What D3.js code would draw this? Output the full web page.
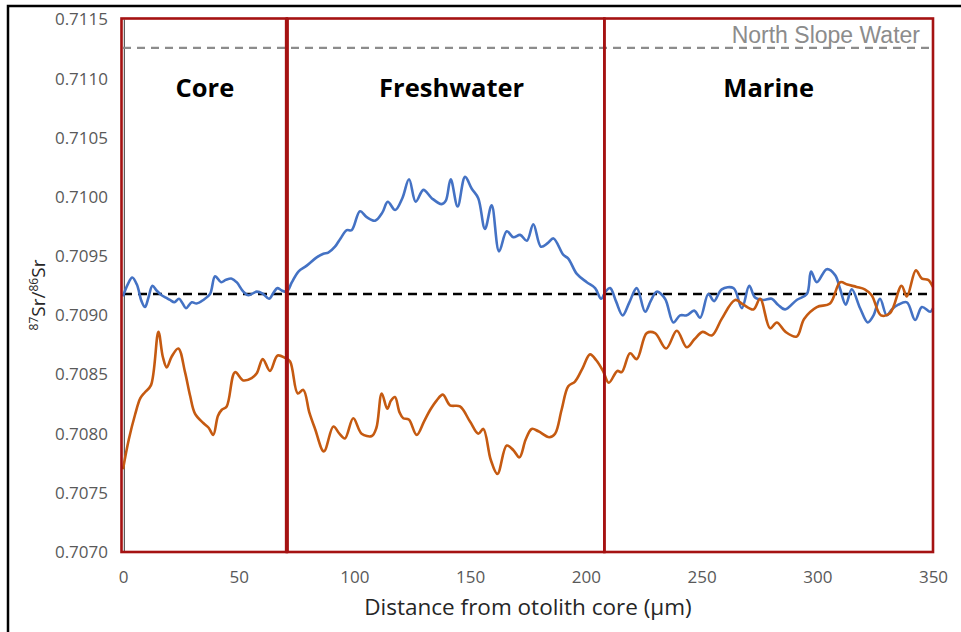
<!DOCTYPE html>
<html>
<head>
<meta charset="utf-8">
<script src="https://cdn.jsdelivr.net/npm/d3@7"></script>
<style>
  body { margin: 0; background: #fff; }
  svg { display: block; }
</style>
</head>
<body>
<svg id="chart" width="961" height="632"></svg>
<script>
// Otolith transect A (blue): distance from core (µm) and 87Sr/86Sr
const distanceA = [0, 2, 4, 6, 8, 9.5, 11, 12.7, 14.5, 16.7, 18.5, 20.3, 22.2, 24.2, 25.8, 27.2, 29.7, 31.8, 34.7, 37.6,
  39.8, 42.4, 44.5, 47, 49.1, 52, 54.2, 57.8, 60.6, 63.1, 65, 66.7, 68.6, 70.7, 73, 75.8, 79.4, 83.7, 86.6, 88.7,
  91.6, 94, 96.7, 98.8, 102.4, 105.3, 108.9, 112.1, 114.4, 117.6, 120.7, 123.6, 126.5, 129.8, 133.4, 137.7, 139.5, 141.6, 144.6, 147.8,
  150.7, 153.5, 156.4, 159.3, 162.5, 165.8, 168.7, 171.6, 174.5, 177.3, 180.6, 183.5, 186, 190.3, 192.4, 196.1, 200.4, 204, 206.6, 208.5,
  210.5, 213, 215.9, 218.8, 222, 225.6, 228, 230.6, 234.2, 237.8, 240.7, 243.6, 246.8, 249.4, 252.9, 255.4, 258.7, 263.8, 267.4, 270.6,
  273.1, 276.7, 280.3, 283, 286.1, 291.1, 295.5, 297.3, 299.8, 304.1, 307.7, 309.9, 312.3, 314.9, 318.5, 321.8, 324.3, 327.1, 330, 332.2,
  335, 338.7, 342.3, 345.2, 348.8, 350];
const ratioA = [0.70916, 0.70926, 0.70932, 0.70926, 0.70912, 0.70907, 0.70915, 0.70925, 0.70921, 0.70917, 0.70915, 0.70913, 0.70911, 0.70914, 0.70910, 0.70906, 0.70911, 0.70910, 0.70913, 0.70918,
  0.70933, 0.70928, 0.70930, 0.70931, 0.70928, 0.70920, 0.70917, 0.70920, 0.70918, 0.70914, 0.70919, 0.70923, 0.70921, 0.70920, 0.70928, 0.70937, 0.70942, 0.70949, 0.70952, 0.70953,
  0.70958, 0.70965, 0.70972, 0.70972, 0.70988, 0.70983, 0.70980, 0.70987, 0.70996, 0.70989, 0.70999, 0.71015, 0.70996, 0.71006, 0.70999, 0.70994, 0.70997, 0.71015, 0.70992, 0.71017,
  0.71007, 0.70999, 0.70973, 0.70993, 0.70954, 0.70971, 0.70966, 0.70968, 0.70963, 0.70977, 0.70958, 0.70961, 0.70965, 0.70951, 0.70948, 0.70935, 0.70928, 0.70923, 0.70914, 0.70920,
  0.70923, 0.70912, 0.70900, 0.70911, 0.70923, 0.70903, 0.70912, 0.70920, 0.70914, 0.70894, 0.70900, 0.70900, 0.70904, 0.70898, 0.70918, 0.70912, 0.70922, 0.70923, 0.70906, 0.70925,
  0.70915, 0.70913, 0.70914, 0.70909, 0.70905, 0.70913, 0.70918, 0.70937, 0.70928, 0.70939, 0.70934, 0.70922, 0.70909, 0.70922, 0.70906, 0.70894, 0.70900, 0.70914, 0.70900, 0.70905,
  0.70909, 0.70911, 0.70896, 0.70907, 0.70903, 0.70906];

// Otolith transect B (orange)
const distanceB = [0, 2.5, 5.2, 7.5, 9.5, 12.1, 15.3, 17.2, 18.9, 21, 23.9, 26.8, 29, 31.1, 34.7, 37, 39, 41, 42.6, 44.8,
  48.4, 52, 55.6, 57.8, 60.4, 63.5, 66.8, 70, 72.2, 75.5, 77.9, 80.5, 83, 86.8, 90.9, 93.5, 95.9, 99.5, 103.1, 107.5,
  109.5, 111.8, 114.2, 115.8, 117.5, 119.5, 121.1, 123.5, 126.9, 130, 132.7, 135.5, 138.2, 141.3, 145.6, 150, 153.5, 155.7, 158.9, 161.8,
  165.8, 168.7, 171.3, 174, 176.6, 179.5, 184.2, 186.7, 189.5, 192.4, 195.3, 198.5, 201.8, 204.5, 207.4, 209.9, 213.6, 215.5, 219.1, 222,
  226.3, 229.9, 234.7, 239.3, 243.6, 247, 250.5, 254.4, 258.7, 264.5, 268.1, 272.4, 275.3, 279.6, 282.5, 286.3, 291.1, 294.3, 299.8, 305.5,
  309.9, 313, 317, 320.5, 323.5, 327.5, 331.5, 336.4, 338.7, 342.6, 345.2, 347.9, 350];
const ratioB = [0.70770, 0.70795, 0.70816, 0.70830, 0.70835, 0.70841, 0.70886, 0.70865, 0.70856, 0.70865, 0.70872, 0.70852, 0.70832, 0.70817, 0.70809, 0.70805, 0.70799, 0.70815, 0.70820, 0.70823,
  0.70852, 0.70845, 0.70847, 0.70851, 0.70863, 0.70853, 0.70866, 0.70864, 0.70861, 0.70834, 0.70837, 0.70818, 0.70804, 0.70785, 0.70806, 0.70800, 0.70796, 0.70813, 0.70800, 0.70798,
  0.70805, 0.70834, 0.70821, 0.70828, 0.70831, 0.70818, 0.70813, 0.70812, 0.70799, 0.70810, 0.70820, 0.70828, 0.70833, 0.70824, 0.70823, 0.70810, 0.70800, 0.70804, 0.70778, 0.70766,
  0.70790, 0.70786, 0.70780, 0.70795, 0.70804, 0.70802, 0.70797, 0.70800, 0.70820, 0.70840, 0.70844, 0.70855, 0.70867, 0.70862, 0.70853, 0.70843, 0.70853, 0.70852, 0.70868, 0.70863,
  0.70885, 0.70885, 0.70872, 0.70887, 0.70873, 0.70880, 0.70886, 0.70883, 0.70897, 0.70913, 0.70909, 0.70905, 0.70914, 0.70889, 0.70894, 0.70886, 0.70882, 0.70897, 0.70907, 0.70910,
  0.70928, 0.70926, 0.70924, 0.70922, 0.70917, 0.70900, 0.70902, 0.70925, 0.70916, 0.70938, 0.70931, 0.70930, 0.70924];

// Life-history zones along the transect
const zoneNames = ["Core", "Freshwater", "Marine"];
const zoneEdges = [0, 70.8, 208, 350];

// Reference ratios
const marineRatio = 0.70918;
const northSlopeRatio = 0.71126;
const northSlopeLabel = "North Slope Water";

// Axis ticks
const xTicks = [0, 50, 100, 150, 200, 250, 300, 350];
const yTicks = [0.7070, 0.7075, 0.7080, 0.7085, 0.7090, 0.7095, 0.7100, 0.7105, 0.7110, 0.7115];

const svg = d3.select("#chart");
const x = d3.scaleLinear().domain([0, 350]).range([123, 933]);
const y = d3.scaleLinear().domain([0.7070, 0.7115]).range([552, 19.5]);

const tickFont = "'Open Sans', sans-serif";

// outer frame
svg.append("rect")
  .attr("x", 8).attr("y", 6).attr("width", 980).attr("height", 660)
  .attr("fill", "none").attr("stroke", "#000").attr("stroke-width", 2.5);

// y tick labels
const yAxis = svg.append("g")
  .attr("transform", `translate(${x(0) - 15},0)`)
  .call(d3.axisLeft(y).tickValues(yTicks).tickFormat(d3.format(".4f")).tickSize(0).tickPadding(0));
yAxis.select(".domain").remove();
yAxis.selectAll("text")
  .attr("font-family", tickFont).attr("font-size", 17).attr("fill", "#595959");

// x tick labels
const xAxis = svg.append("g")
  .attr("transform", `translate(0,${y(0.7070) + 19})`)
  .call(d3.axisBottom(x).tickValues(xTicks).tickFormat(d3.format("d")).tickSize(0).tickPadding(0));
xAxis.select(".domain").remove();
xAxis.selectAll("text")
  .attr("font-family", tickFont).attr("font-size", 17).attr("fill", "#595959");

// vertical axis line
svg.append("line")
  .attr("x1", x(0) + 1.3).attr("x2", x(0) + 1.3)
  .attr("y1", y(0.7115)).attr("y2", y(0.7070))
  .attr("stroke", "#333").attr("stroke-width", 1);

// reference lines
svg.append("line")
  .attr("x1", x(0)).attr("x2", x(350))
  .attr("y1", y(northSlopeRatio)).attr("y2", y(northSlopeRatio))
  .attr("stroke", "#8c8c8c").attr("stroke-width", 2.2).attr("stroke-dasharray", "8,6");
svg.append("text")
  .attr("x", x(350) - 13).attr("y", y(northSlopeRatio) - 5)
  .attr("text-anchor", "end")
  .attr("font-family", "'Liberation Sans', Arial, sans-serif").attr("font-size", 23)
  .attr("fill", "#8c8c8c")
  .text(northSlopeLabel);

svg.append("line")
  .attr("x1", x(0)).attr("x2", x(350))
  .attr("y1", y(marineRatio)).attr("y2", y(marineRatio))
  .attr("stroke", "#000").attr("stroke-width", 2.6).attr("stroke-dasharray", "9,6");

// isotope profiles
const line = d3.line()
  .x(d => x(d[0])).y(d => y(d[1]))
  .curve(d3.curveCatmullRom.alpha(0.5));

svg.append("path")
  .datum(d3.zip(distanceA, ratioA))
  .attr("d", line)
  .attr("fill", "none").attr("stroke", "#4472C4").attr("stroke-width", 2.6)
  .attr("stroke-linejoin", "round");

svg.append("path")
  .datum(d3.zip(distanceB, ratioB))
  .attr("d", line)
  .attr("fill", "none").attr("stroke", "#C55A11").attr("stroke-width", 2.6)
  .attr("stroke-linejoin", "round");

// zone boxes
const zones = zoneNames.map((name, i) => ({ name, start: zoneEdges[i], end: zoneEdges[i + 1] }));
const red = "#a51212";
svg.selectAll("rect.zone")
  .data(zones)
  .join("rect")
  .attr("class", "zone")
  .attr("x", d => x(d.start) - (d.start === 0 ? 1.5 : 0))
  .attr("y", y(0.7115) - 1)
  .attr("width", d => x(d.end) - x(d.start) + (d.start === 0 ? 1.5 : 0))
  .attr("height", y(0.7070) - y(0.7115) + 1)
  .attr("fill", "none").attr("stroke", red).attr("stroke-width", 2.6);

// heavier divider between core and freshwater
svg.append("line")
  .attr("x1", x(zoneEdges[1])).attr("x2", x(zoneEdges[1]))
  .attr("y1", y(0.7115) - 1).attr("y2", y(0.7070))
  .attr("stroke", red).attr("stroke-width", 4);

// zone titles
svg.selectAll("text.zone")
  .data(zones)
  .join("text")
  .attr("class", "zone")
  .attr("x", d => x((d.start + d.end) / 2) + (d.name === "Freshwater" ? 6 : 0))
  .attr("y", 97)
  .attr("text-anchor", "middle")
  .attr("font-family", "'Open Sans', sans-serif").attr("font-weight", 700).attr("font-size", 25.5)
  .attr("fill", "#000")
  .text(d => d.name);

// axis titles
svg.append("text")
  .attr("x", (x(0) + x(350)) / 2).attr("y", 615)
  .attr("text-anchor", "middle")
  .attr("font-family", tickFont).attr("font-size", 22.5).attr("fill", "#262626")
  .text("Distance from otolith core (µm)");

const yTitle = svg.append("text")
  .attr("transform", "translate(45,295) rotate(-90)")
  .attr("text-anchor", "middle")
  .attr("font-family", tickFont).attr("font-size", 19).attr("fill", "#262626");
yTitle.append("tspan").attr("font-size", 12).attr("dy", -7).text("87");
yTitle.append("tspan").attr("dy", 7).text("Sr/");
yTitle.append("tspan").attr("font-size", 12).attr("dy", -7).text("86");
yTitle.append("tspan").attr("dy", 7).text("Sr");
</script>
</body>
</html>
